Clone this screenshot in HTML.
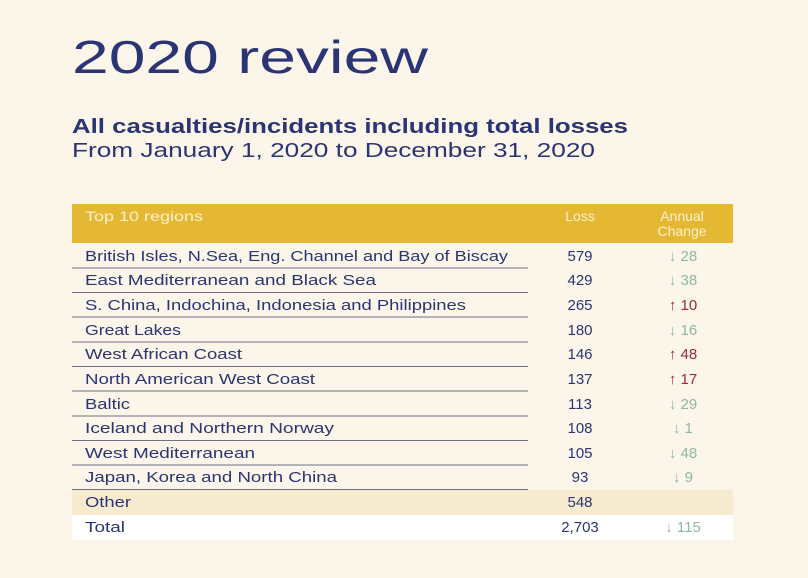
<!DOCTYPE html>
<html><head><meta charset="utf-8"><style>
html,body{margin:0;padding:0;background:#fbf6e9;}
svg{display:block;}
text{font-family:"Liberation Sans",sans-serif;}
</style></head><body>
<svg width="808" height="578" viewBox="0 0 808 578" xmlns="http://www.w3.org/2000/svg">
<rect width="808" height="578" fill="#fbf6e9"/>
<text x="72" y="73" font-size="46" fill="#2b3474" textLength="356" lengthAdjust="spacingAndGlyphs">2020 review</text>
<text x="72" y="133" font-size="20" font-weight="bold" fill="#2b3474" textLength="556" lengthAdjust="spacingAndGlyphs">All casualties/incidents including total losses</text>
<text x="72" y="157" font-size="20" fill="#2b3474" textLength="523" lengthAdjust="spacingAndGlyphs">From January 1, 2020 to December 31, 2020</text>
<rect x="72" y="204" width="661" height="39" fill="#e4b832"/>
<g font-size="14" fill="#fbf0cf">
<text x="85" y="221" textLength="118" lengthAdjust="spacingAndGlyphs">Top 10 regions</text>
<text x="580" y="221" text-anchor="middle">Loss</text>
<text x="682" y="221" text-anchor="middle">Annual</text>
<text x="682" y="236" text-anchor="middle">Change</text>
</g>
<rect x="72" y="490" width="661" height="25" fill="#f7ebcf"/>
<rect x="72" y="515" width="661" height="25" fill="#ffffff"/>
<g stroke="#6e7088" stroke-width="1">
<line x1="72" y1="268" x2="528" y2="268"/><line x1="72" y1="292.5" x2="528" y2="292.5"/>
<line x1="72" y1="317" x2="528" y2="317"/><line x1="72" y1="342" x2="528" y2="342"/>
<line x1="72" y1="366.5" x2="528" y2="366.5"/><line x1="72" y1="391" x2="528" y2="391"/>
<line x1="72" y1="416" x2="528" y2="416"/><line x1="72" y1="440.5" x2="528" y2="440.5"/>
<line x1="72" y1="465" x2="528" y2="465"/><line x1="72" y1="489.5" x2="528" y2="489.5"/>
</g>
<g font-size="15" fill="#2b3474" lengthAdjust="spacingAndGlyphs">
<text x="85" y="261" textLength="423" lengthAdjust="spacingAndGlyphs">British Isles, N.Sea, Eng. Channel and Bay of Biscay</text>
<text x="85" y="285" textLength="291" lengthAdjust="spacingAndGlyphs">East Mediterranean and Black Sea</text>
<text x="85" y="310" textLength="381" lengthAdjust="spacingAndGlyphs">S. China, Indochina, Indonesia and Philippines</text>
<text x="85" y="335" textLength="96" lengthAdjust="spacingAndGlyphs">Great Lakes</text>
<text x="85" y="359" textLength="157" lengthAdjust="spacingAndGlyphs">West African Coast</text>
<text x="85" y="384" textLength="230" lengthAdjust="spacingAndGlyphs">North American West Coast</text>
<text x="85" y="409" textLength="45" lengthAdjust="spacingAndGlyphs">Baltic</text>
<text x="85" y="433" textLength="249" lengthAdjust="spacingAndGlyphs">Iceland and Northern Norway</text>
<text x="85" y="458" textLength="170" lengthAdjust="spacingAndGlyphs">West Mediterranean</text>
<text x="85" y="482" textLength="252" lengthAdjust="spacingAndGlyphs">Japan, Korea and North China</text>
<text x="85" y="507" textLength="46" lengthAdjust="spacingAndGlyphs">Other</text>
<text x="85" y="532" textLength="40" lengthAdjust="spacingAndGlyphs">Total</text>
</g>
<g font-size="15" fill="#2b3474" text-anchor="middle">
<text x="580" y="261">579</text><text x="580" y="285">429</text><text x="580" y="310">265</text>
<text x="580" y="335">180</text><text x="580" y="359">146</text><text x="580" y="384">137</text>
<text x="580" y="409">113</text><text x="580" y="433">108</text><text x="580" y="458">105</text>
<text x="580" y="482">93</text><text x="580" y="507">548</text><text x="580" y="532">2,703</text>
</g>
<g font-size="15" text-anchor="middle">
<text x="683" y="261" fill="#8fb8a0">↓ 28</text>
<text x="683" y="285" fill="#8fb8a0">↓ 38</text>
<text x="683" y="310" fill="#9b2a3a">↑ 10</text>
<text x="683" y="335" fill="#8fb8a0">↓ 16</text>
<text x="683" y="359" fill="#9b2a3a">↑ 48</text>
<text x="683" y="384" fill="#9b2a3a">↑ 17</text>
<text x="683" y="409" fill="#8fb8a0">↓ 29</text>
<text x="683" y="433" fill="#8fb8a0">↓ 1</text>
<text x="683" y="458" fill="#8fb8a0">↓ 48</text>
<text x="683" y="482" fill="#8fb8a0">↓ 9</text>
<text x="683" y="532" fill="#8fb8a0">↓ 115</text>
</g>
</svg>
</body></html>
